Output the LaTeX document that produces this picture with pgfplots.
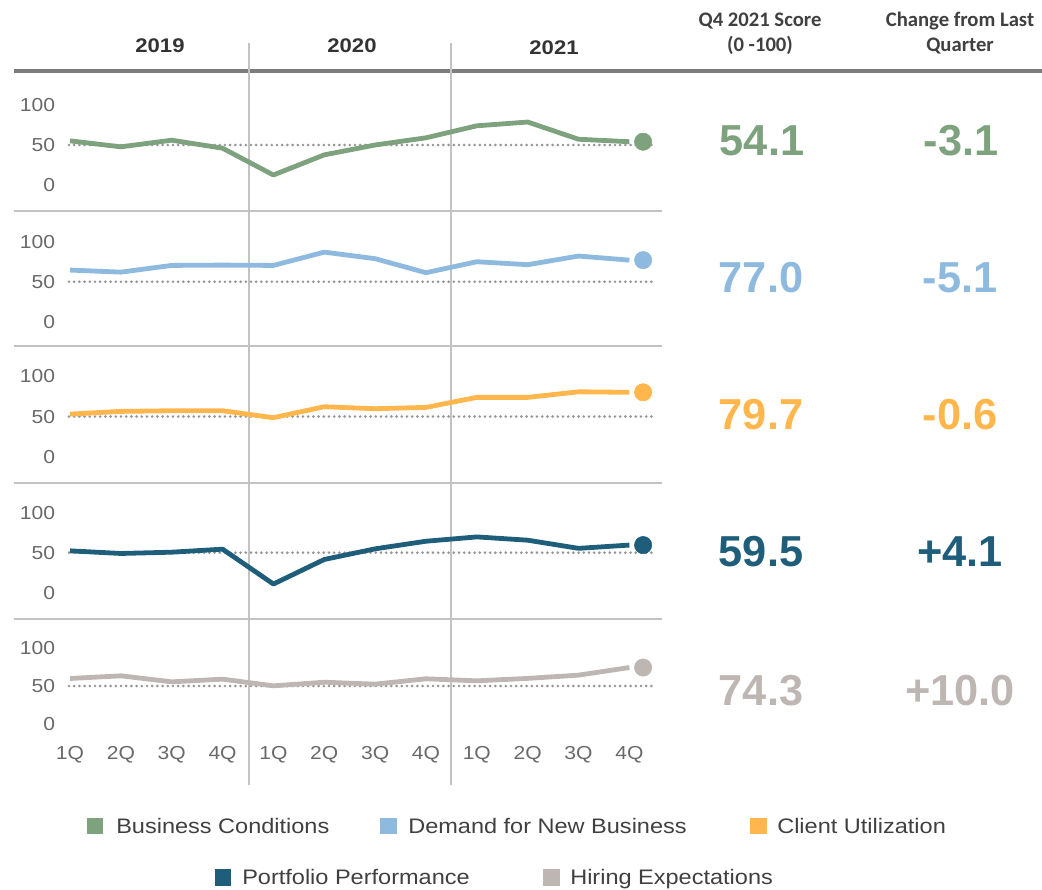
\documentclass[border=0pt]{standalone}
\usepackage{pgfplots}
\pgfplotsset{compat=1.18}
\usepackage{pgfplotstable}
\usepackage{fontspec}
\setmainfont{Liberation Sans}[FakeStretch=1.12]
\newfontfamily\bignum{Liberation Sans}
\newfontfamily\calibri{Carlito}
\definecolor{cBC}{RGB}{126,162,126}
\definecolor{cDN}{RGB}{141,186,222}
\definecolor{cCU}{RGB}{255,183,77}
\definecolor{cPP}{RGB}{31,94,122}
\definecolor{cHE}{RGB}{190,182,178}
\definecolor{tickgray}{RGB}{105,105,105}
\definecolor{hdr}{RGB}{51,51,51}
\definecolor{hdrR}{RGB}{64,64,64}
\definecolor{rulegray}{RGB}{125,125,125}
\definecolor{sepgray}{RGB}{195,195,195}
\definecolor{dotgray}{RGB}{150,150,150}

\pgfplotstableread{
x  BC   DN   CU   PP   HE
0  55.2 64.6 53.0 52.3 59.9
1  47.7 62.0 56.3 49.0 63.4
2  56.0 70.4 57.1 50.6 55.5
3  46.0 70.8 57.1 54.4 59.0
4  12.5 70.4 48.6 10.8 50.2
5  37.7 87.0 62.0 41.5 55.0
6  50.0 78.8 59.6 54.8 52.4
7  59.0 61.3 61.2 64.3 59.5
8  74.0 75.0 73.5 69.7 56.8
9  78.7 71.3 73.5 65.6 60.0
10 57.2 82.1 80.3 55.4 64.3
11 54.1 77.0 79.7 59.5 74.3
}\data

\pgfplotsset{
  panel/.style={
    x=38.14pt, y=0.6pt,
    xmin=-0.2, xmax=11.6, ymin=-20, ymax=112,
    axis line style={draw=none},
    major tick length=0pt,
    ytick={0,50,100},
    xtick=\empty,
    yticklabel style={font=\fontsize{14.1}{16}\selectfont, text=tickgray},
    xticklabel style={font=\fontsize{14.1}{16}\selectfont, text=tickgray},
    /pgf/number format/assume math mode=true,
    clip=false,
    anchor=origin,
  },
  ser/.style={line width=3.6pt, line join=round},
  refl/.style={dotgray, line width=2.2pt, line cap=round, dash pattern=on 0pt off 3.9pt, forget plot},
  dot/.style={only marks, mark=*, mark size=6.5pt},
}

\begin{document}
\begin{tikzpicture}
\useasboundingbox (0,0) rectangle (781.5pt,-666.75pt);
\begin{scope}[x=0.75pt,y=-0.75pt]
  % horizontal rules
  \draw[rulegray, line width=3.2pt] (14,71) -- (1042,71);
  \foreach \yy in {211,345.5,483.3,619} \draw[sepgray, line width=1.5pt] (14,\yy) -- (662,\yy);
  % year separators
  \draw[sepgray, line width=1.2pt] (249,43) -- (249,785);
  \draw[sepgray, line width=1.2pt] (451,43) -- (451,785);
  % year headers
  \node[font=\fontsize{14.8}{17}\selectfont\bfseries, text=hdr, anchor=base, inner sep=0] at (160,52.5) {2019};
  \node[font=\fontsize{14.8}{17}\selectfont\bfseries, text=hdr, anchor=base, inner sep=0] at (352,52.5) {2020};
  \node[font=\fontsize{14.8}{17}\selectfont\bfseries, text=hdr, anchor=base, inner sep=0] at (554,54) {2021};
  % right headers
  \node[font=\calibri\fontsize{15.5}{18}\selectfont\bfseries, text=hdrR, anchor=base, inner sep=0] at (760,26.5) {Q4 2021 Score};
  \node[font=\calibri\fontsize{15.5}{18}\selectfont\bfseries, text=hdrR, anchor=base, inner sep=0] at (760,51.5) {(0 -100)};
  \node[font=\calibri\fontsize{15.5}{18}\selectfont\bfseries, text=hdrR, anchor=base, inner sep=0] at (960,26.5) {Change from Last};
  \node[font=\calibri\fontsize{15.5}{18}\selectfont\bfseries, text=hdrR, anchor=base, inner sep=0] at (960,51.5) {Quarter};
  % big numbers
  \tikzset{bn/.style={font=\bignum\fontsize{32.5}{38}\selectfont\bfseries, anchor=center, inner sep=0}}
  \node[bn, text=cBC] at (762,141) {54.1};
  \node[bn, text=cBC] at (961,141) {-3.1};
  \node[bn, text=cDN] at (761,278) {77.0};
  \node[bn, text=cDN] at (960,278) {-5.1};
  \node[bn, text=cCU] at (761,415) {79.7};
  \node[bn, text=cCU] at (960,415) {-0.6};
  \node[bn, text=cPP] at (761,552) {59.5};
  \node[bn, text=cPP] at (960,552) {+4.1};
  \node[bn, text=cHE] at (761,691) {74.3};
  \node[bn, text=cHE] at (960,691) {+10.0};
  % legend
  \tikzset{lg/.style={font=\fontsize{15.75}{18}\selectfont, text=hdrR, anchor=base west, inner sep=0}}
  \fill[cBC] (87,818) rectangle (103,834);
  \node[lg] at (116,833) {Business Conditions};
  \fill[cDN] (380,818) rectangle (397,834);
  \node[lg] at (408,833) {Demand for New Business};
  \fill[cCU] (750,818) rectangle (767,834);
  \node[lg] at (777,833) {Client Utilization};
  \fill[cPP] (215,869) rectangle (231,886);
  \node[lg] at (242,884) {Portfolio Performance};
  \fill[cHE] (543,869) rectangle (560,886);
  \node[lg] at (570,884) {Hiring Expectations};
\end{scope}

% Panel 1: Business Conditions
\begin{axis}[panel, at={(52.5pt,-138.75pt)}]
  \addplot[refl] coordinates {(-0.02,50) (11.45,50)};
  \addplot[ser, cBC] table[x=x, y=BC] {\data};
  \addplot[dot, cBC] coordinates {(11.27,54.1)};
\end{axis}
% Panel 2: Demand for New Business
\begin{axis}[panel, at={(52.5pt,-241.3pt)}]
  \addplot[refl] coordinates {(-0.02,50) (11.45,50)};
  \addplot[ser, cDN] table[x=x, y=DN] {\data};
  \addplot[dot, cDN] coordinates {(11.27,77.0)};
\end{axis}
% Panel 3: Client Utilization
\begin{axis}[panel, y=0.612pt, at={(52.5pt,-343pt)}]
  \addplot[refl] coordinates {(-0.02,50) (11.45,50)};
  \addplot[ser, cCU] table[x=x, y=CU] {\data};
  \addplot[dot, cCU] coordinates {(11.27,79.7)};
\end{axis}
% Panel 4: Portfolio Performance
\begin{axis}[panel, at={(52.5pt,-444.5pt)}]
  \addplot[refl] coordinates {(-0.02,50) (11.45,50)};
  \addplot[ser, cPP] table[x=x, y=PP] {\data};
  \addplot[dot, cPP] coordinates {(11.27,59.5)};
\end{axis}
% Panel 5: Hiring Expectations
\begin{axis}[panel, y=0.57pt, ymin=-23, at={(52.5pt,-543pt)},
  xtick={0,...,11},
  xticklabels={1Q,2Q,3Q,4Q,1Q,2Q,3Q,4Q,1Q,2Q,3Q,4Q}]
  \addplot[refl] coordinates {(-0.02,50) (11.45,50)};
  \addplot[ser, cHE] table[x=x, y=HE] {\data};
  \addplot[dot, cHE] coordinates {(11.27,74.3)};
\end{axis}
\end{tikzpicture}
\end{document}
